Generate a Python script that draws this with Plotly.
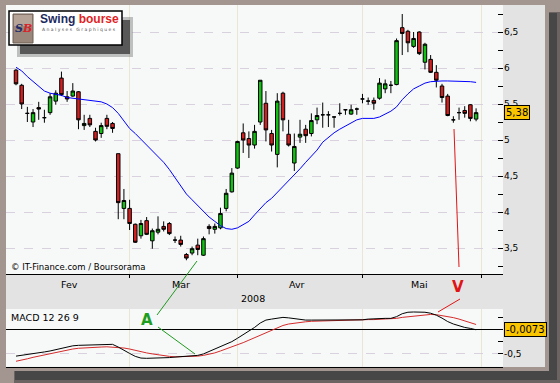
import plotly.graph_objects as go

W, H = 560, 383

# ---------------- data ----------------
month_names = ["Fev", "Mar", "Avr", "Mai"]
month_starts = [0, 20, 39, 61, 82]          # trading-day index where each month starts
year_label = "2008"

opens = [5.97, 5.76, 5.37, 5.25, 5.45, 5.31, 5.38, 5.54, 5.86, 5.60,
         5.61, 5.67, 5.20, 5.30, 5.12, 5.09, 5.30, 5.23, 4.81, 4.05,
         4.05, 3.83, 3.67, 3.88, 3.60, 3.72, 3.80, 3.84, 3.61, 3.61,
         3.41, 3.43, 3.54, 3.40, 3.80, 3.76, 3.78, 4.05, 4.28, 4.61,
         5.10, 5.02, 4.93, 5.25, 5.51, 5.09, 4.80, 5.65, 5.08, 4.68,
         5.04, 5.15, 5.09, 5.28, 5.35, 5.35, 5.32, 5.37, 5.42, 5.36,
         5.43, 5.57, 5.54, 5.55, 5.58, 5.71, 5.76, 5.77, 6.56, 6.51,
         6.30, 6.50, 6.08, 6.12, 5.94, 5.75, 5.61, 5.28, 5.38, 5.41,
         5.49, 5.29]
highs = [5.99, 5.78, 5.46, 5.43, 5.53, 5.42, 5.65, 5.69, 5.95, 5.68,
         5.79, 5.68, 5.35, 5.35, 5.17, 5.24, 5.35, 5.25, 4.81, 4.32,
         4.17, 3.84, 3.89, 3.93, 3.77, 3.94, 3.87, 3.86, 3.66, 3.67,
         3.43, 3.52, 3.63, 3.66, 3.83, 3.84, 4.06, 4.32, 4.61, 4.99,
         5.23, 5.12, 5.21, 5.83, 5.68, 5.14, 5.65, 5.67, 5.28, 5.09,
         5.28, 5.21, 5.37, 5.45, 5.52, 5.40, 5.32, 5.51, 5.42, 5.49,
         5.45, 5.64, 5.59, 5.59, 5.86, 5.84, 5.82, 6.41, 6.75, 6.53,
         6.50, 6.51, 6.35, 6.18, 6.04, 5.78, 5.64, 5.33, 5.45, 5.47,
         5.50, 5.44]
lows = [5.76, 5.43, 5.25, 5.18, 5.28, 5.24, 5.35, 5.49, 5.61, 5.53,
        5.60, 5.15, 5.14, 5.18, 4.98, 5.03, 5.15, 5.10, 3.90, 3.90,
        3.75, 3.57, 3.63, 3.68, 3.49, 3.69, 3.73, 3.68, 3.57, 3.52,
        3.33, 3.40, 3.40, 3.39, 3.69, 3.70, 3.76, 4.01, 4.27, 4.60,
        4.82, 4.75, 4.88, 5.21, 4.98, 4.84, 4.62, 5.12, 4.91, 4.57,
        4.96, 4.96, 5.05, 5.22, 5.17, 5.18, 5.17, 5.34, 5.35, 5.35,
        5.35, 5.51, 5.49, 5.42, 5.56, 5.65, 5.65, 5.76, 6.18, 6.22,
        6.28, 6.18, 5.98, 5.93, 5.73, 5.52, 5.33, 5.24, 5.28, 5.31,
        5.26, 5.26]
closes = [5.78, 5.50, 5.37, 5.38, 5.43, 5.31, 5.60, 5.65, 5.63, 5.57,
          5.68, 5.28, 5.23, 5.21, 5.00, 5.20, 5.19, 5.16, 4.13, 4.16,
          3.84, 3.58, 3.84, 3.69, 3.74, 3.76, 3.76, 3.70, 3.61, 3.55,
          3.36, 3.49, 3.48, 3.63, 3.77, 3.80, 3.98, 4.26, 4.54, 4.98,
          5.00, 4.93, 5.12, 5.83, 5.14, 4.93, 5.54, 5.28, 4.93, 4.91,
          5.08, 5.06, 5.27, 5.34, 5.35, 5.35, 5.32, 5.37, 5.42, 5.42,
          5.43, 5.57, 5.54, 5.51, 5.79, 5.78, 5.76, 6.38, 6.48, 6.35,
          6.41, 6.20, 6.33, 5.94, 5.83, 5.59, 5.34, 5.28, 5.38, 5.37,
          5.30, 5.38]
moving_avg = [6.01, 5.96, 5.88, 5.81, 5.74, 5.68, 5.65, 5.64, 5.62, 5.59,
              5.58, 5.57, 5.57, 5.56, 5.55, 5.53, 5.50, 5.45, 5.37, 5.27,
              5.16, 5.09, 5.01, 4.93, 4.85, 4.77, 4.69, 4.59, 4.48, 4.37,
              4.25, 4.17, 4.09, 4.00, 3.93, 3.87, 3.81, 3.77, 3.76, 3.78,
              3.82, 3.87, 3.96, 4.05, 4.13, 4.19, 4.27, 4.35, 4.44, 4.52,
              4.60, 4.69, 4.77, 4.86, 4.97, 5.04, 5.10, 5.15, 5.19, 5.24,
              5.28, 5.30, 5.30, 5.30, 5.32, 5.36, 5.40, 5.46, 5.56, 5.64,
              5.71, 5.75, 5.79, 5.81, 5.82, 5.82, 5.82, 5.82, 5.82, 5.81,
              5.81, 5.80]
macd_line = [-0.545, -0.53, -0.51, -0.49, -0.475, -0.46, -0.44, -0.41, -0.38, -0.355,
             -0.335, -0.325, -0.32, -0.32, -0.32, -0.32, -0.31, -0.305, -0.36, -0.43,
             -0.49, -0.55, -0.585, -0.59, -0.59, -0.585, -0.58, -0.575, -0.565, -0.555,
             -0.545, -0.54, -0.53, -0.50, -0.45, -0.40, -0.36, -0.31, -0.25, -0.18,
             -0.11, -0.04, 0.04, 0.13, 0.19, 0.21, 0.23, 0.245, 0.235, 0.215,
             0.20, 0.19, 0.19, 0.19, 0.19, 0.19, 0.19, 0.19, 0.19, 0.19,
             0.19, 0.195, 0.21, 0.22, 0.225, 0.225, 0.225, 0.26, 0.32, 0.35,
             0.355, 0.355, 0.35, 0.33, 0.29, 0.23, 0.16, 0.11, 0.07, 0.04,
             0.02, -0.0073]
signal_line = [-0.65, -0.63, -0.60, -0.57, -0.545, -0.52, -0.49, -0.465, -0.44, -0.42,
               -0.40, -0.385, -0.375, -0.37, -0.365, -0.36, -0.355, -0.36, -0.37, -0.38,
               -0.40, -0.43, -0.46, -0.48, -0.50, -0.52, -0.54, -0.55, -0.56, -0.56,
               -0.555, -0.55, -0.545, -0.53, -0.51, -0.48, -0.44, -0.40, -0.36, -0.32,
               -0.27, -0.22, -0.17, -0.11, -0.06, -0.01, 0.03, 0.08, 0.11, 0.13,
               0.145, 0.155, 0.165, 0.17, 0.175, 0.18, 0.185, 0.19, 0.19, 0.19,
               0.19, 0.195, 0.20, 0.20, 0.205, 0.21, 0.215, 0.225, 0.245, 0.26,
               0.275, 0.29, 0.30, 0.305, 0.30, 0.285, 0.265, 0.24, 0.21, 0.175,
               0.14, 0.10]

idx = list(range(len(closes)))

# ---------------- helpers (pixel -> paper) ----------------
def px(x):
    return x / W


def py(y):
    return 1 - y / H


def rect(x0, y0, x1, y1, fill, line_color=None, line_width=0, layer="below", opacity=1):
    return dict(type="rect", xref="paper", yref="paper",
                x0=px(x0), x1=px(x1), y0=py(y1), y1=py(y0),
                fillcolor=fill, opacity=opacity, layer=layer,
                line=dict(color=line_color or fill, width=line_width))


def seg(x0, y0, x1, y1, color, width=1):
    return dict(type="line", xref="paper", yref="paper",
                x0=px(x0), x1=px(x1), y0=py(y0), y1=py(y1),
                line=dict(color=color, width=width), layer="above")


def fmt(v, nd):
    return f"{v:.{nd}f}".replace(".", ",")


def label(x, y, text, size, color="black", xanchor="center", family=None,
          xref="paper", yref="paper", **kw):
    return dict(x=x, y=y, xref=xref, yref=yref, text=text, showarrow=False,
                xanchor=xanchor, yanchor="middle",
                font=dict(family=family or FONT, size=size, color=color), **kw)


FONT = "DejaVu Sans"
BG_OUT = "#a39690"
DITHER = "#e3e3e3"
PLOT_BG = "#f7f9f9"
GRID_H = "#d9d2de"
GRID_V = "#ebe5d5"

fig = go.Figure()

fig.add_trace(go.Candlestick(
    x=idx, open=opens, high=highs, low=lows, close=closes,
    increasing=dict(fillcolor="#12c212", line=dict(color="black", width=1)),
    decreasing=dict(fillcolor="#d21f1f", line=dict(color="black", width=1)),
    whiskerwidth=0, xaxis="x", yaxis="y", hoverinfo="skip"))
fig.add_trace(go.Scatter(x=idx, y=moving_avg, mode="lines",
                         line=dict(color="#0000ff", width=1), xaxis="x", yaxis="y",
                         hoverinfo="skip"))
fig.add_trace(go.Scatter(x=idx, y=signal_line, mode="lines",
                         line=dict(color="#d42a2a", width=1), xaxis="x2", yaxis="y2",
                         hoverinfo="skip"))
fig.add_trace(go.Scatter(x=idx, y=macd_line, mode="lines",
                         line=dict(color="black", width=1), xaxis="x2", yaxis="y2",
                         hoverinfo="skip"))

x_left, x_right = 6, 503
step = 5.68
first_x = 16
x_range = [(x_left - first_x) / step, (x_right - first_x) / step]

grid_ticks = month_starts[1:]

common_x = dict(range=x_range, domain=[px(x_left), px(x_right)],
                tickmode="array", tickvals=grid_ticks, showticklabels=False,
                showgrid=True, gridcolor=GRID_V, gridwidth=1, zeroline=False,
                showline=True, linecolor="black", linewidth=1, fixedrange=True)

fig.update_layout(
    width=W, height=H, autosize=False,
    margin=dict(l=0, r=0, t=0, b=0, pad=0),
    paper_bgcolor=BG_OUT, plot_bgcolor="rgba(0,0,0,0)",
    showlegend=False, hovermode=False, separators=", ",
    boxgap=0.12,
    font=dict(family=FONT, size=9, color="black"),
    xaxis=dict(anchor="y", ticks="outside", ticklen=3, tickcolor="black",
               rangeslider=dict(visible=False), **common_x),
    xaxis2=dict(anchor="y2", matches="x", ticks="", **common_x),
    yaxis=dict(domain=[py(274), py(5)], range=[3.139, 6.875], side="right",
               anchor="x", tick0=0, dtick=0.5, ticks="inside", ticklen=5,
               tickcolor="black", showgrid=True, gridcolor=GRID_H, griddash="dash",
               zeroline=False, showline=False, fixedrange=True,
               tickfont=dict(family=FONT, size=9, color="black"),
               minor=dict(tick0=0, dtick=0.25, ticks="inside", ticklen=5,
                          tickcolor="black", showgrid=False)),
    yaxis2=dict(domain=[py(366.7), py(309)], range=[-0.761, 0.416], side="right",
                anchor="x2", tickmode="array", tickvals=[-0.5], ticktext=["-0,5"],
                ticks="inside", ticklen=5, tickcolor="black",
                showgrid=True, gridcolor=GRID_H, griddash="dash",
                zeroline=True, zerolinecolor="black", zerolinewidth=1,
                showline=False, fixedrange=True,
                tickfont=dict(family=FONT, size=9, color="black"),
                minor=dict(tickmode="array", tickvals=[-0.25, 0, 0.25], ticks="inside",
                           ticklen=5, tickcolor="black", showgrid=False)),
)

shapes = [
    rect(14, 12, 560, 383, "#6b6462"),
    rect(15, 13, 557, 380, "#474747"),
    rect(0, 0, 549, 371, BG_OUT),
    rect(6, 5, 545, 367, DITHER),
    rect(x_left, 5, x_right, 274, PLOT_BG),
    rect(x_left, 309, x_right, 366.7, PLOT_BG),
    # logo
    rect(17, 17, 133, 57, "#777777", layer="above", opacity=0.45),
    rect(20, 20, 130, 54, "#3f3f3f", layer="above", opacity=0.8),
    rect(9, 11, 122, 45, "white", "black", 1.5, layer="above"),
    rect(13, 14, 33, 43, "#9a877b", "#6d5e55", 1, layer="above"),
    rect(14, 15, 32, 26, "#b5a497", layer="above"),
    # annotation strokes
    seg(157, 315, 197, 261, "#1f9a1f"),
    seg(158, 327, 195, 354, "#1f9a1f"),
    seg(438, 312, 460, 299, "#e01414"),
    seg(454, 129, 459, 267, "#e01414"),
]
fig.update_layout(shapes=shapes)

ann = []
for i, name in enumerate(month_names):
    centre = (month_starts[i] + month_starts[i + 1] - 1) / 2
    ann.append(label(centre, py(284), name, 9.5, xref="x"))
ann += [
    label(px(253), py(298), year_label, 9.5),
    label(px(9), py(267), "© IT-Finance.com / Boursorama", 8.5, xanchor="left"),
    label(px(9), py(317), "MACD 12 26 9", 9.5, xanchor="left"),
    label(px(517), closes[-1], fmt(closes[-1], 2), 10, yref="y",
          bgcolor="#f9c500", bordercolor="black", borderwidth=1, borderpad=1),
    label(px(525), macd_line[-1], fmt(macd_line[-1], 4), 10, yref="y2",
          bgcolor="#f9c500", bordercolor="black", borderwidth=1, borderpad=1),
    label(px(147), py(320), "<b>A</b>", 15, color="#1e9e1e"),
    label(px(458), py(287), "<b>V</b>", 15, color="#e01414"),
    # logo text
    label(px(23), py(28.5),
          "<i><b><span style='color:#1d2b6b'>S</span><span style='color:#d8232a'>B</span></b></i>",
          11, family="DejaVu Serif"),
    label(px(79), py(19),
          "<b><span style='color:#1b2a5e'>Swing</span> <span style='color:#e31e24'>bourse</span></b>",
          12, family="Liberation Sans"),
    label(px(79), py(29.5), "A n a l y s e s   G r a p h i q u e s", 4.5, color="#555555"),
]
fig.update_layout(annotations=ann)

fig.write_html("out.html",
               config={"displayModeBar": False, "staticPlot": True},
               post_script="document.body.style.margin='0px';"
                           "document.body.style.background='#a39690';")
